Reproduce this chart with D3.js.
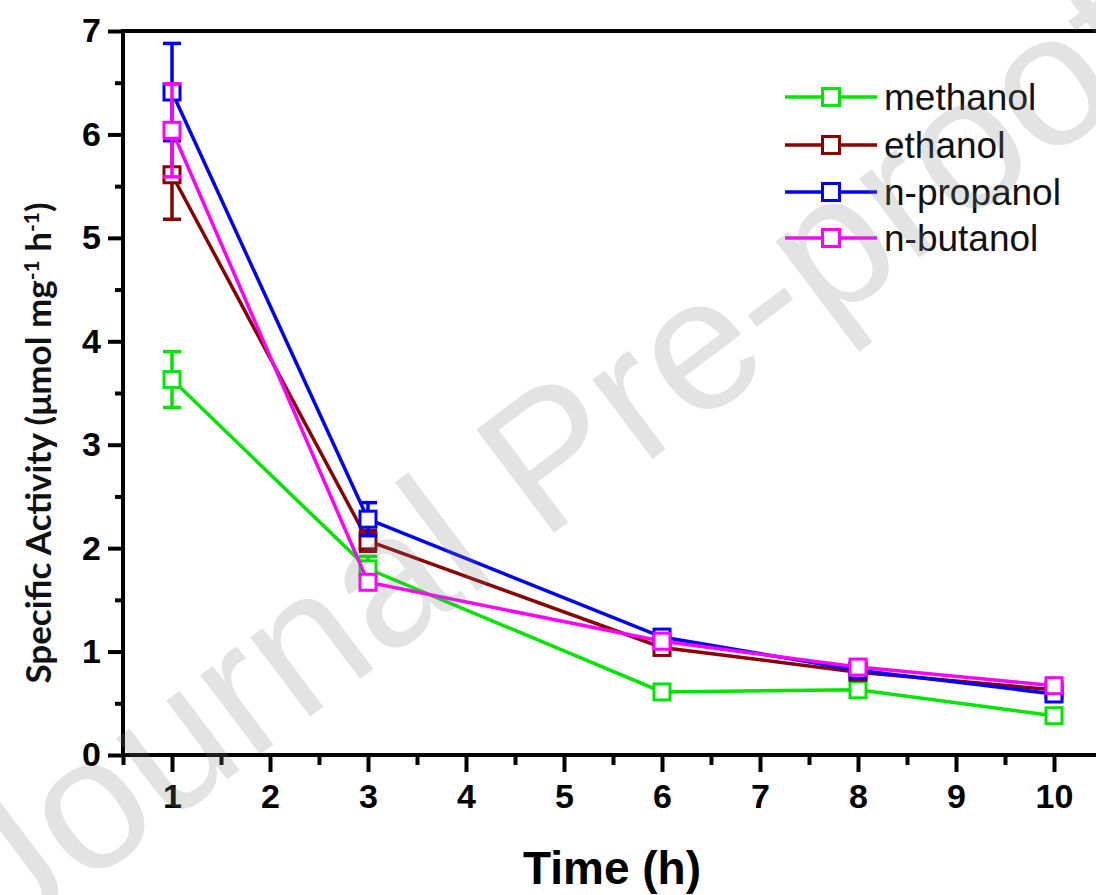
<!DOCTYPE html>
<html>
<head>
<meta charset="utf-8">
<script src="https://cdn.jsdelivr.net/npm/d3@7"></script>
<style>
  body { margin: 0; background: #fff; }
  svg { display: block; }
</style>
</head>
<body>
<div id="chart"></div>
<script>
const times = [1, 3, 6, 8, 10];
const seriesNames = ['methanol', 'ethanol', 'n-propanol', 'n-butanol'];
const methanol = [3.63, 1.80, 0.61, 0.63, 0.38];
const ethanol = [5.61, 2.07, 1.04, 0.80, 0.63];
const propanol = [6.41, 2.28, 1.14, 0.82, 0.59];
const butanol = [6.04, 1.67, 1.10, 0.85, 0.67];
const methanolErr = [0.27, 0.12, 0.03, 0.03, 0.03];
const ethanolErr = [0.43, 0.10, 0.04, 0.03, 0.03];
const propanolErr = [0.47, 0.16, 0.04, 0.03, 0.03];
const butanolErr = [0.45, 0.06, 0.04, 0.03, 0.03];
const colors = ['#00e600', '#8b0000', '#0000ff', '#ff00ff'];
const xTicks = [1, 2, 3, 4, 5, 6, 7, 8, 9, 10];
const yTicks = [0, 1, 2, 3, 4, 5, 6, 7];

const values = [methanol, ethanol, propanol, butanol];
const errors = [methanolErr, ethanolErr, propanolErr, butanolErr];
const series = seriesNames.map((name, i) => ({
  name,
  color: colors[i],
  points: times.map((t, j) => ({ t, v: values[i][j], e: errors[i][j] }))
}));

const width = 1096, height = 895;
const svg = d3.select('#chart').append('svg')
  .attr('width', width).attr('height', height);

const x = d3.scaleLinear().domain([0.5, 10.5]).range([123, 1103]);
const y = d3.scaleLinear().domain([0, 7]).range([755, 31]);

const axisFont = 'Liberation Sans, Arial, sans-serif';

// frame
svg.append('path')
  .attr('d', `M${x(0.5)},${y(0)}H${x(10.5)}V${y(7)}H${x(0.5)}Z`)
  .attr('fill', 'none').attr('stroke', '#000').attr('stroke-width', 4);

// minor ticks
const minorX = d3.range(0.5, 10.6, 1);
const minorY = d3.range(0.5, 7, 1);
svg.append('g').attr('transform', `translate(0,${y(0)})`)
  .call(d3.axisBottom(x).tickValues(minorX).tickSize(10).tickFormat(''))
  .call(g => g.select('.domain').remove())
  .selectAll('line').attr('stroke-width', 4);
svg.append('g').attr('transform', `translate(${x(0.5)},0)`)
  .call(d3.axisLeft(y).tickValues(minorY).tickSize(8).tickFormat(''))
  .call(g => g.select('.domain').remove())
  .selectAll('line').attr('stroke-width', 4);

// major ticks
const xAxis = svg.append('g').attr('transform', `translate(0,${y(0)})`)
  .call(d3.axisBottom(x).tickValues(xTicks).tickSize(17).tickPadding(12).tickFormat(d3.format('d')));
xAxis.select('.domain').remove();
xAxis.selectAll('line').attr('stroke-width', 4);
xAxis.selectAll('text').attr('font-family', axisFont).attr('font-weight', 'bold')
  .attr('font-size', 34).attr('fill', '#000');

const yAxis = svg.append('g').attr('transform', `translate(${x(0.5)},0)`)
  .call(d3.axisLeft(y).tickValues(yTicks).tickSize(15).tickPadding(7).tickFormat(d3.format('d')));
yAxis.select('.domain').remove();
yAxis.selectAll('line').attr('stroke-width', 4);
yAxis.selectAll('text').attr('font-family', axisFont).attr('font-weight', 'bold')
  .attr('font-size', 34).attr('fill', '#000');

// axis titles
svg.append('text')
  .attr('x', 612).attr('y', 884)
  .attr('text-anchor', 'middle')
  .attr('font-family', axisFont).attr('font-weight', 'bold').attr('font-size', 46)
  .text('Time (h)');

const yTitle = svg.append('text')
  .attr('transform', `translate(51,443) rotate(-90)`)
  .attr('text-anchor', 'middle')
  .attr('font-family', 'Lato, Open Sans, sans-serif').attr('font-weight', 'bold').attr('font-size', 35)
  .attr('fill', '#111');
yTitle.append('tspan').text('Specific Activity (μmol mg');
yTitle.append('tspan').attr('baseline-shift', 'super').attr('font-size', 21).text('-1');
yTitle.append('tspan').text(' h');
yTitle.append('tspan').attr('baseline-shift', 'super').attr('font-size', 21).text('-1');
yTitle.append('tspan').text(')');

// series
const line = d3.line().x(d => x(d.t)).y(d => y(d.v));
const sq = 16, cap = 9;

series.forEach(s => {
  const g = svg.append('g');
  g.append('path').datum(s.points)
    .attr('d', line).attr('fill', 'none')
    .attr('stroke', s.color).attr('stroke-width', 3.5);
  const eb = g.selectAll('.err').data(s.points).join('g')
    .attr('stroke', s.color).attr('stroke-width', 3.5);
  eb.append('line')
    .attr('x1', d => x(d.t)).attr('x2', d => x(d.t))
    .attr('y1', d => y(d.v - d.e)).attr('y2', d => y(d.v + d.e));
  eb.append('line')
    .attr('x1', d => x(d.t) - cap).attr('x2', d => x(d.t) + cap)
    .attr('y1', d => y(d.v + d.e)).attr('y2', d => y(d.v + d.e));
  eb.append('line')
    .attr('x1', d => x(d.t) - cap).attr('x2', d => x(d.t) + cap)
    .attr('y1', d => y(d.v - d.e)).attr('y2', d => y(d.v - d.e));
  g.selectAll('rect').data(s.points).join('rect')
    .attr('x', d => x(d.t) - sq / 2).attr('y', d => y(d.v) - sq / 2)
    .attr('width', sq).attr('height', sq)
    .attr('fill', '#fff').attr('stroke', s.color).attr('stroke-width', 3);
});

// legend
const legend = svg.append('g').attr('transform', 'translate(785,97)');
const rowY = [0, 48, 95, 141];
series.forEach((s, i) => {
  const r = legend.append('g').attr('transform', `translate(0,${rowY[i]})`);
  r.append('line').attr('x1', 0).attr('x2', 92).attr('y1', 0).attr('y2', 0)
    .attr('stroke', s.color).attr('stroke-width', 3.5);
  r.append('rect').attr('x', 46 - 17 / 2).attr('y', -17 / 2)
    .attr('width', 17).attr('height', 17)
    .attr('fill', '#fff').attr('stroke', s.color).attr('stroke-width', 3);
  r.append('text').attr('x', 99).attr('y', 13)
    .attr('font-family', axisFont).attr('font-size', 37).attr('fill', '#111')
    .text(s.name);
});

// watermark
svg.append('text')
  .attr('transform', 'translate(548,455) rotate(-37)')
  .attr('text-anchor', 'middle').attr('dy', '0.35em')
  .attr('font-family', axisFont).attr('font-size', 188)
  .attr('fill', '#808080').attr('fill-opacity', 0.22)
  .text('Journal Pre-proof');
</script>
</body>
</html>
